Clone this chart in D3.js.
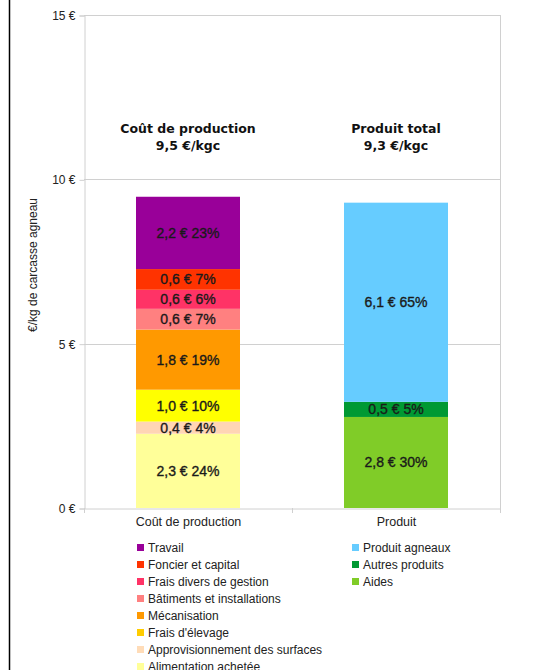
<!DOCTYPE html>
<html>
<head>
<meta charset="utf-8">
<script src="https://cdn.jsdelivr.net/npm/d3@7"></script>
<style>
  body { margin: 0; background: #fff; }
</style>
</head>
<body>
<svg id="chart" width="542" height="670" font-family="Liberation Sans, Arial, sans-serif"></svg>
<script>
// data
const categories = ['Coût de production', 'Produit'];
const titles = [['Coût de production', '9,5 €/kgc'], ['Produit total', '9,3 €/kgc']];

const costSeries = ['Alimentation achetée', 'Approvisionnement des surfaces', "Frais d'élevage",
  'Mécanisation', 'Bâtiments et installations', 'Frais divers de gestion', 'Foncier et capital', 'Travail'];
const costValues = [2.26, 0.37, 0.97, 1.83, 0.63, 0.58, 0.63, 2.2];
const costColors = ['#ffff99', '#ffd5b5', '#ffff00', '#ff9900', '#ff8080', '#ff3366', '#ff3300', '#990099'];
const costLegendColors = ['#ffff99', '#ffdcb8', '#ffcc00', '#ff9900', '#ff8080', '#ff3366', '#ff3300', '#990099'];

const prodSeries = ['Aides', 'Autres produits', 'Produit agneaux'];
const prodValues = [2.77, 0.46, 6.06];
const prodColors = ['#80cc28', '#009933', '#66ccff'];

const yTicks = [0, 5, 10, 15];

const svg = d3.select('#chart');

// frame line on the left
svg.append('line')
  .attr('x1', 9.5).attr('x2', 9.5).attr('y1', 0).attr('y2', 670)
  .attr('stroke', '#000').attr('stroke-width', 1.5);

const plot = {left: 84, right: 500, top: 15, bottom: 508};

const x = d3.scaleBand().domain(categories).range([plot.left, plot.right]).paddingInner(0).paddingOuter(0);
const y = d3.scaleLinear().domain([0, 15]).range([plot.bottom, plot.top]);
const barW = x.bandwidth() * 0.5;

// grid
svg.append('g').selectAll('line')
  .data(yTicks.filter(d => d > 0))
  .enter().append('line')
  .attr('x1', plot.left).attr('x2', plot.right)
  .attr('y1', d => Math.round(y(d)) + 0.5).attr('y2', d => Math.round(y(d)) + 0.5)
  .attr('stroke', '#d0d0d0');

svg.append('line')
  .attr('x1', plot.right + 0.5).attr('x2', plot.right + 0.5)
  .attr('y1', y(15)).attr('y2', y(0) + 5)
  .attr('stroke', '#d0d0d0');

// y axis
const yAxis = svg.append('g')
  .attr('transform', `translate(${plot.left + 0.5},0.5)`)
  .call(d3.axisLeft(y).tickValues(yTicks).tickSize(5).tickPadding(4)
    .tickFormat(d => d + ' €'));
yAxis.attr('font-family', null);
yAxis.select('.domain').attr('stroke', '#d0d0d0');
yAxis.selectAll('.tick line').attr('stroke', '#d0d0d0');
yAxis.selectAll('.tick text').attr('font-size', 12).attr('fill', '#222');

// x axis
const xAxis = svg.append('g')
  .attr('transform', `translate(0.5,${Math.round(plot.bottom) + 0.5})`)
  .call(d3.axisBottom(x).tickSize(0).tickPadding(9));
xAxis.attr('font-family', null);
xAxis.select('.domain').attr('stroke', '#d0d0d0');
xAxis.selectAll('.tick text').attr('font-size', 12.5).attr('fill', '#222');
svg.append('g').selectAll('line')
  .data([plot.left, plot.left + x.bandwidth(), plot.right])
  .enter().append('line')
  .attr('x1', d => Math.round(d) + 0.5).attr('x2', d => Math.round(d) + 0.5)
  .attr('y1', plot.bottom).attr('y2', plot.bottom + 5)
  .attr('stroke', '#d0d0d0');

// stacked bars
function stackBar(cat, values, colors) {
  const total = d3.sum(values);
  let acc = 0;
  const segs = values.map((v, i) => {
    const s = {v: v, y0: acc, y1: acc + v, color: colors[i], pct: v / total};
    acc += v;
    return s;
  });
  const cx = x(cat) + x.bandwidth() / 2;
  const g = svg.append('g');
  g.selectAll('rect').data(segs).enter().append('rect')
    .attr('x', cx - barW / 2).attr('width', barW)
    .attr('y', d => y(d.y1)).attr('height', d => y(d.y0) - y(d.y1))
    .attr('fill', d => d.color);
  g.selectAll('text').data(segs).enter().append('text')
    .attr('x', cx).attr('y', d => (y(d.y0) + y(d.y1)) / 2)
    .attr('dy', '0.35em')
    .attr('text-anchor', 'middle')
    .attr('font-size', 14).attr('fill', '#1a1a1a')
    .attr('stroke', '#1a1a1a').attr('stroke-width', 0.35)
    .text(d => d3.format('.1f')(d.v).replace('.', ',') + ' € ' + Math.round(d.pct * 100) + '%');
  return {cx: cx, total: total};
}

const b1 = stackBar(categories[0], costValues, costColors);
const b2 = stackBar(categories[1], prodValues, prodColors);

// titles above bars
[b1, b2].forEach((b, i) => {
  const t = svg.append('text')
    .attr('x', b.cx).attr('y', 133)
    .attr('text-anchor', 'middle')
    .attr('font-family', 'DejaVu Sans, Verdana, sans-serif')
    .attr('font-weight', 'bold').attr('font-size', 12.5).attr('fill', '#111');
  t.append('tspan').attr('x', b.cx).attr('dy', 0).text(titles[i][0]);
  t.append('tspan').attr('x', b.cx).attr('dy', 16.5).text(titles[i][1]);
});

// y axis title
svg.append('text')
  .attr('transform', `translate(37,265) rotate(-90)`)
  .attr('text-anchor', 'middle')
  .attr('font-size', 12).attr('fill', '#222')
  .text('€/kg de carcasse agneau');

// legend
const legendCost = costSeries.map((s, i) => ({name: s, color: costLegendColors[i]})).reverse();
const legendProd = prodSeries.map((s, i) => ({name: s, color: prodColors[i]})).reverse();

function legend(items, lx, ly) {
  const g = svg.append('g').attr('transform', `translate(${lx},${ly})`);
  const row = g.selectAll('g').data(items).enter().append('g')
    .attr('transform', (d, i) => `translate(0,${i * 17})`);
  row.append('rect').attr('x', 0).attr('y', -4).attr('width', 7).attr('height', 7)
    .attr('fill', d => d.color);
  row.append('text').attr('x', 11).attr('y', 0).attr('dy', '0.35em')
    .attr('font-size', 12).attr('fill', '#222')
    .text(d => d.name);
}
legend(legendCost, 137, 548);
legend(legendProd, 352, 548);
</script>
</body>
</html>
